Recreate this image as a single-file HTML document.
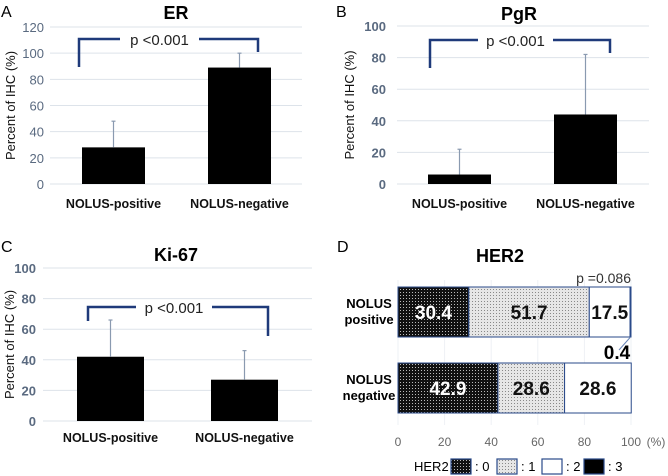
<!DOCTYPE html>
<html><head><meta charset="utf-8"><style>
body{margin:0;background:#fff}
svg{display:block;font-family:"Liberation Sans",Arial,sans-serif}
</style></head><body>
<svg id="fig" width="668" height="476" viewBox="0 0 668 476" xmlns="http://www.w3.org/2000/svg">
<defs>
<pattern id="p0" width="3" height="3" patternUnits="userSpaceOnUse"><rect width="3" height="3" fill="#111"/><rect x="1" y="1" width="1" height="1" fill="#bbb"/></pattern>
<pattern id="p1" width="3" height="3" patternUnits="userSpaceOnUse"><rect width="3" height="3" fill="#e6e6e6"/><rect x="1" y="1" width="1" height="1" fill="#888"/></pattern>
</defs>
<g id="root"></g>
</svg>
<script>
var NS="http://www.w3.org/2000/svg";
var root=document.getElementById('root');
function mk(t,a,p,txt){var e=document.createElementNS(NS,t);for(var k in a)e.setAttribute(k,a[k]);if(txt!==undefined)e.textContent=txt;(p||root).appendChild(e);return e;}

// ---- data ----
var categories=["NOLUS-positive","NOLUS-negative"];
var erValues=[28,89];
var erErrors=[48,100];
var pgrValues=[6,44];
var pgrErrors=[22,82];
var kiValues=[42,27];
var kiErrors=[66,46];
var erTicks=[0,20,40,60,80,100,120];
var pgrTicks=[0,20,40,60,80,100];
var kiTicks=[0,20,40,60,80,100];
var her2Rows=["positive","negative"];
var her2Pos=[30.4,51.7,17.5,0.4];
var her2Neg=[42.9,28.6,28.6,0];
var her2Ticks=[0,20,40,60,80,100];
var her2Legend=[": 0",": 1",": 2",": 3"];

function barPanel(o){
  var g=mk('g',{});
  
  
  var tmax=o.ticks[o.ticks.length-1];
  function y(v){return o.y0-(o.y0-o.yTop)*v/tmax;}
  o.ticks.forEach(function(t){
    var l=mk('line',{x1:o.gx1,x2:o.gx2,y1:y(t),y2:y(t),stroke:'#dde3ea','stroke-width':1},g);
    
    
    var tx=mk('text',{x:o.tickX,y:y(t)+5,'text-anchor':'end','font-size':13,fill:'#5a6a80','font-weight':o.boldTicks?'bold':'normal'},g,t);
    
    
  });
  o.values.forEach(function(v,i){
    var bx=o.bars[i];
    var r=mk('rect',{x:bx,y:y(v),width:o.bw,height:o.y0-y(v),fill:'#000'},g);
    
    
    var cx=bx+o.bw/2;
    var e=mk('line',{x1:cx,x2:cx,y1:y(v),y2:y(o.errors[i]),stroke:'#8a9ab0','stroke-width':1.2},g);
    
    
    var c=mk('line',{x1:cx-2,x2:cx+2,y1:y(o.errors[i]),y2:y(o.errors[i]),stroke:'#8a9ab0','stroke-width':1.2},g);
    
    
    var lt=mk('text',{x:cx,y:o.labY,'text-anchor':'middle','font-size':12.5,'font-weight':'bold',fill:'#111'},g,categories[i]);
    
    
  });
  var tt=mk('text',{x:o.titleX,y:o.titleY,'text-anchor':'middle','font-size':18,'font-weight':'bold'},g,o.title);
  
  
  var pl=mk('text',{x:o.letter[0],y:o.letter[1],'font-size':16},g,o.letterT);
  
  
  var yt=mk('text',{transform:'translate('+o.ytX+','+((o.y0+o.yTop)/2)+') rotate(-90)','text-anchor':'middle','font-size':13,fill:'#111'},g,'Percent of IHC (%)');
  
  
  var b=o.br;
  var p1=mk('path',{d:'M'+b[0]+' '+b[1]+' V'+b[2]+' H'+b[3]+' M'+b[4]+' '+b[2]+' H'+b[5]+' V'+b[6],fill:'none',stroke:'#1f3a7a','stroke-width':2.5},g);
  
  
  var pt=mk('text',{x:(b[3]+b[4])/2,y:b[2]+6,'text-anchor':'middle','font-size':15,fill:'#222'},g,'p <0.001');
  
  
}
barPanel({name:'er',title:'ER',letterT:'A',letter:[1,17],titleX:176,titleY:19,values:erValues,errors:erErrors,ticks:erTicks,y0:184,yTop:27,gx1:50,gx2:302,tickX:44,bars:[82,208],bw:63,labY:208,ytX:15,br:[79,67,39,120,199,258,52]});
barPanel({name:'pgr',title:'PgR',letterT:'B',letter:[336,17],titleX:519,titleY:20,values:pgrValues,errors:pgrErrors,ticks:pgrTicks,y0:184,yTop:26,gx1:397,gx2:649,tickX:386,boldTicks:true,bars:[428,554],bw:63,labY:208,ytX:354,br:[430,68,40,478,553,610,53]});
barPanel({name:'ki67',title:'Ki-67',letterT:'C',letter:[1,252],titleX:176,titleY:261,values:kiValues,errors:kiErrors,ticks:kiTicks,y0:421,yTop:268,gx1:43,gx2:312,tickX:36,boldTicks:true,bars:[77,211],bw:67,labY:442,ytX:14,br:[88,321,307,136,212,268,336]});

// ---- HER2 panel ----
(function(){
  var g=mk('g',{});
  
  
  var x0=398,x1=631;
  function x(v){return x0+(x1-x0)*v/100;}
  her2Ticks.forEach(function(t){
    var l=mk('line',{x1:x(t),x2:x(t),y1:280,y2:425,stroke:'#eef1f5','stroke-width':1},g);
    
    
    var tx=mk('text',{x:x(t),y:446,'text-anchor':'middle','font-size':12,fill:'#666'},g,t);
    
    
  });
  var u=mk('text',{x:656,y:446,'text-anchor':'middle','font-size':12,fill:'#666'},g,'(%)');
  
  
  var fills=['url(#p0)','url(#p1)','#fff','#000'];
  var txtCol=['#fff','#111','#111','#fff'];
  [her2Pos,her2Neg].forEach(function(row,ri){
    var yy=[287,363][ri],h=50,acc=0;
    row.forEach(function(v,si){
      if(v<=0){return;}
      var r=mk('rect',{x:x(acc),y:yy,width:x(acc+v)-x(acc),height:h,fill:fills[si],stroke:'#2a4a8a','stroke-width':1},g);
      
      
      if(v>=5){
        var t=mk('text',{x:(x(acc)+x(acc+v))/2,y:yy+h/2+7,'text-anchor':'middle','font-size':19,'font-weight':'bold',fill:txtCol[si]},g,v.toFixed(1));
        
        
      }
      acc+=v;
    });
    var lb=mk('text',{x:369,y:yy+21,'text-anchor':'middle','font-size':13,'font-weight':'bold'},g);
    
    
    mk('tspan',{x:369},lb,'NOLUS');
    mk('tspan',{x:369,dy:16},lb,her2Rows[ri]);
  });
  var small=her2Pos[3];
  var ld=mk('line',{x1:x(100-small/2),y1:337,x2:x(100)-12,y2:350,stroke:'#6a86b8','stroke-width':1},g);
  
  
  var st=mk('text',{x:617,y:359,'text-anchor':'middle','font-size':19,'font-weight':'bold'},g,small.toFixed(1));
  
  
  var pv=mk('text',{x:631,y:283,'text-anchor':'end','font-size':14,fill:'#333'},g,'p =0.086');
  
  
  var tt=mk('text',{x:500,y:262,'text-anchor':'middle','font-size':18,'font-weight':'bold'},g,'HER2');
  
  
  var pl=mk('text',{x:337,y:252,'font-size':16},g,'D');
  
  
  var lg=mk('g',{},g);
  
  
  var lt=mk('text',{x:414,y:471,'font-size':13},lg,'HER2');
  
  
  var sx=[451,497,542,584];
  her2Legend.forEach(function(s,i){
    var r=mk('rect',{x:sx[i],y:459,width:20,height:15,fill:fills[i],stroke:'#2a4a8a','stroke-width':1.2},lg);
    
    
    var t=mk('text',{x:sx[i]+24,y:471,'font-size':13},lg,s);
    
    
  });
})();
</script>
</body></html>
